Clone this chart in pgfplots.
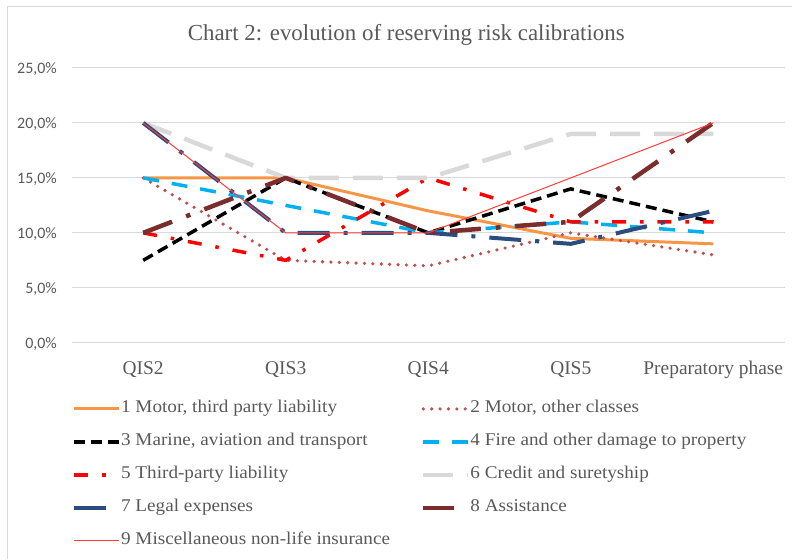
\documentclass[border=0pt]{standalone}
\usepackage{pgfplots}
\pgfplotsset{compat=1.18}
\usepackage{fontspec}
\setmainfont{Liberation Serif}
\newfontfamily\legfont[FakeStretch=1.07]{Liberation Serif}
\newfontfamily\tickfont{Carlito}
\definecolor{txt}{HTML}{595959}
\definecolor{gridc}{HTML}{D9D9D9}
\definecolor{cA}{HTML}{F79646}
\definecolor{cB}{HTML}{C0504D}
\definecolor{cC}{HTML}{000000}
\definecolor{cD}{HTML}{00B0F0}
\definecolor{cE}{HTML}{FF0000}
\definecolor{cF}{HTML}{D9D9D9}
\definecolor{cG}{HTML}{2B4C7E}
\definecolor{cH}{HTML}{7B2C2C}
\definecolor{cI}{HTML}{FF3B3B}
\begin{document}
\begin{tikzpicture}[x=1bp,y=1bp]
\path (0,0) rectangle (792,-559);
\draw[color=gridc, line width=1bp] (8,-559) -- (8,-7) -- (792,-7);
\node[anchor=base, font=\fontsize{23}{23}\selectfont, text=txt, inner sep=0pt] at (406.5,-41) {Chart 2: evolution of reserving risk calibrations};
\begin{axis}[
  at={(72bp,-343bp)}, anchor=south west, scale only axis,
  width=713bp, height=275bp,
  xmin=-0.5, xmax=4.5, ymin=0, ymax=25,
  axis line style={draw=none},
  major tick length=0pt, tick style={draw=none},
  ymajorgrids, grid style={color=gridc, line width=1bp},
  ytick={0,5,10,15,20,25},
  yticklabels={{0,0\%},{5,0\%},{10,0\%},{15,0\%},{20,0\%},{25,0\%}},
  xtick={0,1,2,3,4},
  xticklabels={QIS2,QIS3,QIS4,QIS5,Preparatory phase},
  yticklabel style={font=\tickfont\fontsize{16}{16}\selectfont, text=txt, anchor=base east, inner sep=0pt, xshift=-15bp, yshift=-5.5bp},
  xticklabel style={font=\fontsize{19.5}{19.5}\selectfont, text=txt, anchor=base, inner sep=0pt, yshift=-32bp},
  clip=false,
  legend columns=2,
  legend cell align=left,
  legend image code/.code={\draw[#1] (0bp,0bp) -- (45bp,0bp);},
  legend style={at={(0,-0.2109)}, anchor=north west, draw=none, fill=none, inner sep=0pt,
    font=\legfont\fontsize{18}{18}\selectfont, text=txt,
    row sep=17bp, column sep=0bp,
    /tikz/every even column/.append style={column sep=31bp},
    nodes={inner xsep=0bp, inner ysep=0pt, text height=12bp, text depth=4bp}},
  every axis plot/.append style={line join=round},
]
\addplot[cA, line width=3bp] coordinates {(0,15) (1,15) (2,12) (3,9.5) (4,9)};
\addlegendentry{1 Motor, third party liability}
\addplot[cB, line width=3.6bp, line cap=round, dash pattern=on 0bp off 8.4bp] coordinates {(0,15) (1,7.5) (2,7) (3,10) (4,8)};
\addlegendentry{2 Motor, other classes}
\addplot[cC, line width=3.5bp, dash pattern=on 11bp off 6bp] coordinates {(0,7.5) (1,15) (2,10) (3,14) (4,11)};
\addlegendentry{3 Marine, aviation and transport}
\addplot[cD, line width=3.5bp, dash pattern=on 16bp off 13bp] coordinates {(0,15) (1,12.5) (2,10) (3,11) (4,10)};
\addlegendentry{4 Fire and other damage to property}
\addplot[cE, line width=3.5bp, dash pattern=on 14bp off 14bp on 3.5bp off 14bp] coordinates {(0,10) (1,7.5) (2,15) (3,11) (4,11)};
\addlegendentry{5 Third-party liability}
\addplot[cF, line width=4.5bp, dash pattern=on 30bp off 14bp] coordinates {(0,20) (1,15) (2,15) (3,19) (4,19)};
\addlegendentry{6 Credit and suretyship}
\addplot[cG, line width=4bp, dash pattern=on 32bp off 14bp on 4bp off 14bp] coordinates {(0,20) (1,10) (2,10) (3,9) (4,12)};
\addlegendentry{7 Legal expenses}
\addplot[cH, line width=4.5bp, dash pattern=on 31bp off 15bp on 4.5bp off 15bp] coordinates {(0,10) (1,15) (2,10) (3,11) (4,20)};
\addlegendentry{8 Assistance}
\addplot[cI, line width=1bp] coordinates {(0,20) (1,10) (2,10) (3,15) (4,20)};
\addlegendentry{9 Miscellaneous non-life insurance}
\end{axis}
\end{tikzpicture}
\end{document}
